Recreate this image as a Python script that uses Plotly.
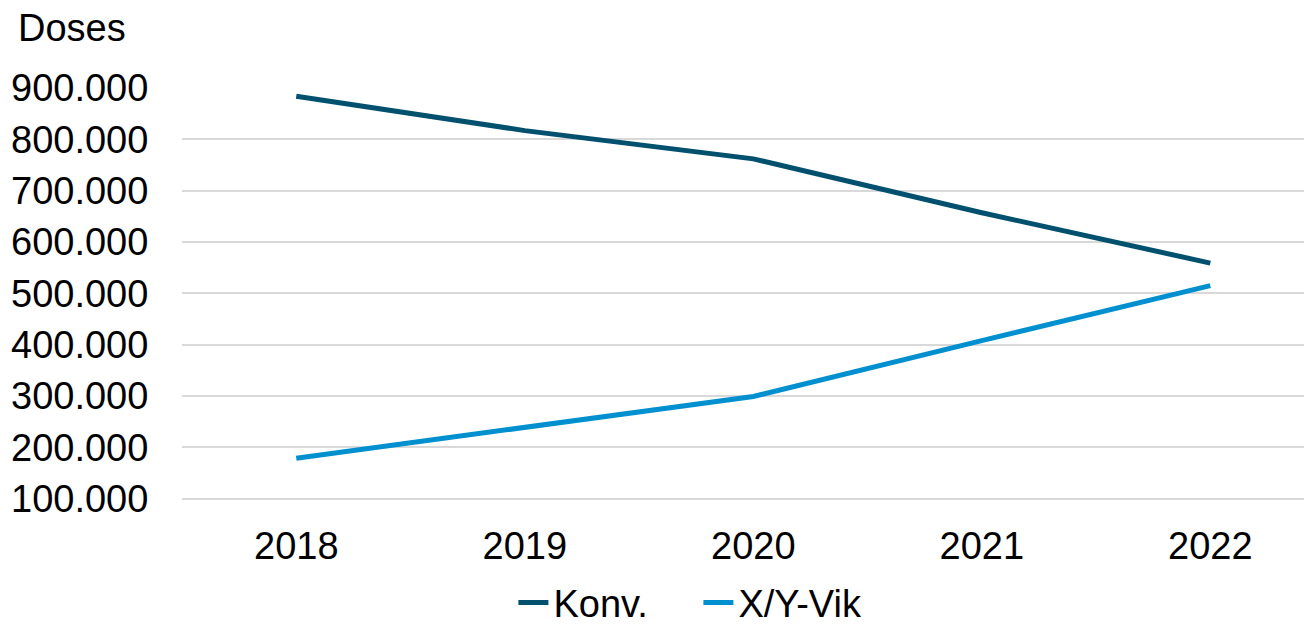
import plotly.graph_objects as go

years = ["2018", "2019", "2020", "2021", "2022"]
konv = [884000, 817000, 762000, 657000, 559000]
xy_vik = [179000, 238000, 299000, 408000, 515000]

series_names = ["Konv.", "X/Y-Vik"]
series_colors = ["#00506E", "#0090CF"]

font_family = "Liberation Sans, Arial, sans-serif"

fig = go.Figure()
for name, vals, col in zip(series_names, [konv, xy_vik], series_colors):
    fig.add_trace(
        go.Scatter(
            x=years,
            y=vals,
            mode="lines",
            name=name,
            line=dict(color=col, width=5),
        )
    )

# page body has an 8px margin, so the figure is made 8px smaller
fig.update_layout(
    width=1304,
    height=617,
    margin=dict(l=174, r=0, t=80, b=125, autoexpand=False),
    plot_bgcolor="white",
    paper_bgcolor="white",
    separators=",.",
    font=dict(family=font_family, size=38, color="black"),
    showlegend=True,
    legend=dict(
        orientation="h",
        x=0.457,
        xanchor="center",
        yref="container",
        y=0.036,
        yanchor="middle",
        font=dict(size=38),
        itemwidth=30,
        entrywidth=140,
    ),
)

fig.update_xaxes(
    type="category",
    range=[-0.5, 4.445],
    showgrid=False,
    showline=False,
    zeroline=False,
    ticks="outside",
    ticklen=12,
    tickcolor="rgba(0,0,0,0)",
)

fig.update_yaxes(
    range=[97500, 900000],
    dtick=100000,
    tick0=100000,
    tickformat=",d",
    showgrid=True,
    gridcolor="#D9D9D9",
    gridwidth=1.5,
    zeroline=False,
    showline=False,
    ticks="outside",
    ticklen=25,
    tickcolor="rgba(0,0,0,0)",
)

fig.add_annotation(
    text="Doses",
    xref="paper",
    yref="paper",
    x=0,
    y=1,
    xanchor="left",
    yanchor="middle",
    xshift=-166,
    yshift=60,
    showarrow=False,
    font=dict(size=38),
)

fig.write_html("out.html")
